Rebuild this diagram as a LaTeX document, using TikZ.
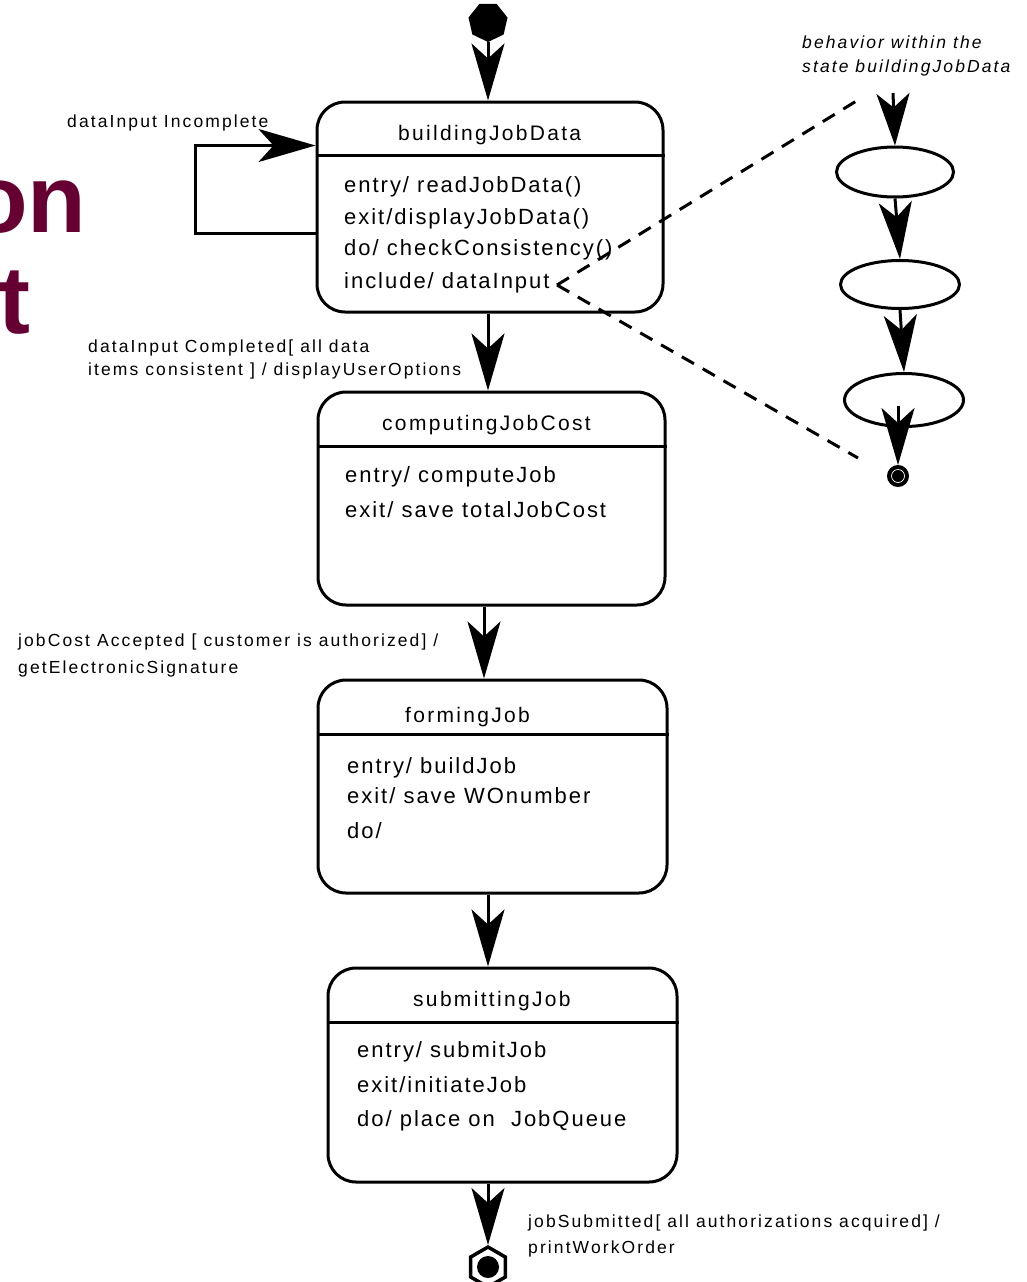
\documentclass[tikz,border=0pt]{standalone}
\usepackage{fontspec}
\setmainfont{Liberation Sans}
\newfontfamily\bodyf{Liberation Sans}[LetterSpace=9]
\newfontfamily\titlef{Liberation Sans}[LetterSpace=11]
\newfontfamily\labf{Liberation Sans}[LetterSpace=12]
\newfontfamily\bigf{Liberation Sans}
\usetikzlibrary{arrows.meta,shapes.geometric,calc}
\definecolor{slidemaroon}{RGB}{102,0,51}
\begin{document}
\begin{tikzpicture}[x=1pt,y=-1pt,
  statebox/.style={draw, line width=3pt, rounded corners=28pt, inner sep=0pt},
  trans/.style={line width=3pt, -{Stealth[length=57pt,width=33pt,inset=15pt]}},
  shorttrans/.style={line width=3pt, -{Stealth[length=52pt,width=33pt,inset=14pt]}},
  divider/.style={line width=3pt},
  incl/.style={line width=3pt, dash pattern=on 14pt off 10pt},
  body/.style={anchor=base west, inner sep=0pt, font=\bodyf\fontsize{22}{26}\selectfont},
  ttl/.style={anchor=base west, inner sep=0pt, font=\titlef\fontsize{21}{25}\selectfont},
  lab/.style={anchor=base west, inner sep=0pt, font=\labf\fontsize{17.5}{21}\selectfont},
  itlab/.style={anchor=base west, inner sep=0pt, font=\labf\itshape\fontsize{17.5}{21}\selectfont},
  big/.style={anchor=base west, inner sep=0pt, text=slidemaroon, font=\bigf\bfseries\fontsize{96}{100}\selectfont},
  subst/.style={ellipse, draw, line width=3pt, inner sep=0pt}]
\useasboundingbox (0,0) rectangle (1026,1282);

% partial slide title in the background
\node[big] (bigon) at (-31,232) {on};
\node[big] (bigrt) at (-39,333) {rt};

% initial state
\node[regular polygon, regular polygon sides=7, shape border rotate=180, fill, minimum size=40pt, inner sep=0pt] (init) at (488,22) {};

% states
\node[statebox, minimum width=346pt, minimum height=210pt] (s1) at (490,207) {};
\node[statebox, minimum width=347pt, minimum height=213pt] (s2) at (491.5,498.5) {};
\node[statebox, minimum width=349pt, minimum height=213pt] (s3) at (492.5,786.5) {};
\node[statebox, minimum width=349pt, minimum height=214pt] (s4) at (502.5,1075) {};

\draw[divider] ([yshift=-55pt]s1.north west) -- ([yshift=-55pt]s1.north east);
\draw[divider] ([yshift=-56pt]s2.north west) -- ([yshift=-56pt]s2.north east);
\draw[divider] ([yshift=-56pt]s3.north west) -- ([yshift=-56pt]s3.north east);
\draw[divider] ([yshift=-56pt]s4.north west) -- ([yshift=-56pt]s4.north east);

% state texts
\node[ttl] (t1) at (398,140) {buildingJobData};
\node[body] (b1a) at (344,192) {entry/ readJobData()};
\node[body] (b1b) at (344,224) {exit/displayJobData()};
\node[body] (b1c) at (344,255) {do/ checkConsistency()};
\node[body] (b1d) at (344,288) {include/ dataInput};

\node[ttl] (t2) at (382,430) {computingJobCost};
\node[body] (b2a) at (345,482) {entry/ computeJob};
\node[body] (b2b) at (345,517) {exit/ save totalJobCost};

\node[ttl] (t3) at (405,722) {formingJob};
\node[body] (b3a) at (347,773) {entry/ buildJob};
\node[body] (b3b) at (347,803) {exit/ save WOnumber};
\node[body] (b3c) at (347,838) {do/};

\node[ttl] (t4) at (413,1006) {submittingJob};
\node[body] (b4a) at (357,1057) {entry/ submitJob};
\node[body] (b4b) at (357,1092) {exit/initiateJob};
\node[body] (b4c) at (357,1126) {do/ place on\ \ JobQueue};

% final state
\node[regular polygon, regular polygon sides=6, shape border rotate=30, draw, line width=3.5pt, minimum size=40pt, inner sep=0pt] (fin) at (488,1267) {};
\node[circle, fill, minimum size=22pt, inner sep=0pt] (finc) at (fin.center) {};

% transitions
\coordinate (ax) at (484,0);
\draw[trans] (init) -- (init |- s1.north);
\draw[trans] (s1.south -| init) -- (s2.north -| init);
\draw[trans] (s2.south -| ax) -- (s3.north -| ax);
\draw[trans] (s3.south -| init) -- (s4.north -| init);
\draw[trans] (s4.south -| init) -- (fin);
\draw[trans] ([yshift=-133pt]s1.north west) -- ++(-120,0) |- ([yshift=-45pt]s1.north west);

% transition labels
\node[lab] (l1) at (67,127) {dataInput Incomplete};
\node[lab] (l2a) at (88,352) {dataInput Completed[ all data};
\node[lab] (l2b) at (88,375) {items consistent ] / displayUserOptions};
\node[lab] (l3a) at (18,646) {jobCost Accepted [ customer is authorized] /};
\node[lab] (l3b) at (18,673) {getElectronicSignature};
\node[lab] (l4a) at (528,1227) {jobSubmitted[ all authorizations acquired] /};
\node[lab] (l4b) at (528,1253) {printWorkOrder};

% behaviour within the state
\node[itlab] (l5a) at (802,48) {behavior within the};
\node[itlab] (l5b) at (802,72) {state buildingJobData};

\coordinate (rinit) at (893,93);
\node[subst, minimum width=117pt, minimum height=50pt] (e1) at (895,172) {};
\node[subst, minimum width=119pt, minimum height=48pt] (e2) at (900,284.5) {};
\node[subst, minimum width=119pt, minimum height=53pt] (e3) at (904,400) {};
\coordinate (e3in) at (898,406);
\node[circle, draw, fill, line width=2pt, minimum size=20pt, inner sep=0pt] (rfin) at (898,476) {};
\draw[white, line width=0.7pt] (rfin.center) circle (6.5);

\draw[shorttrans] (rinit) -- (e1.north);
\draw[trans] (e1.south) -- (e2.north);
\draw[trans] (e2.south) -- (e3.north);
\draw[trans] (e3in) -- (rfin.north);

% include links
\coordinate (inc) at (557,285);
\coordinate (dtop) at (858,100);
\coordinate (dbot) at (858,458);
\draw[incl] (inc) -- (dtop);
\draw[incl] (inc) -- (dbot);
\end{tikzpicture}
\end{document}
